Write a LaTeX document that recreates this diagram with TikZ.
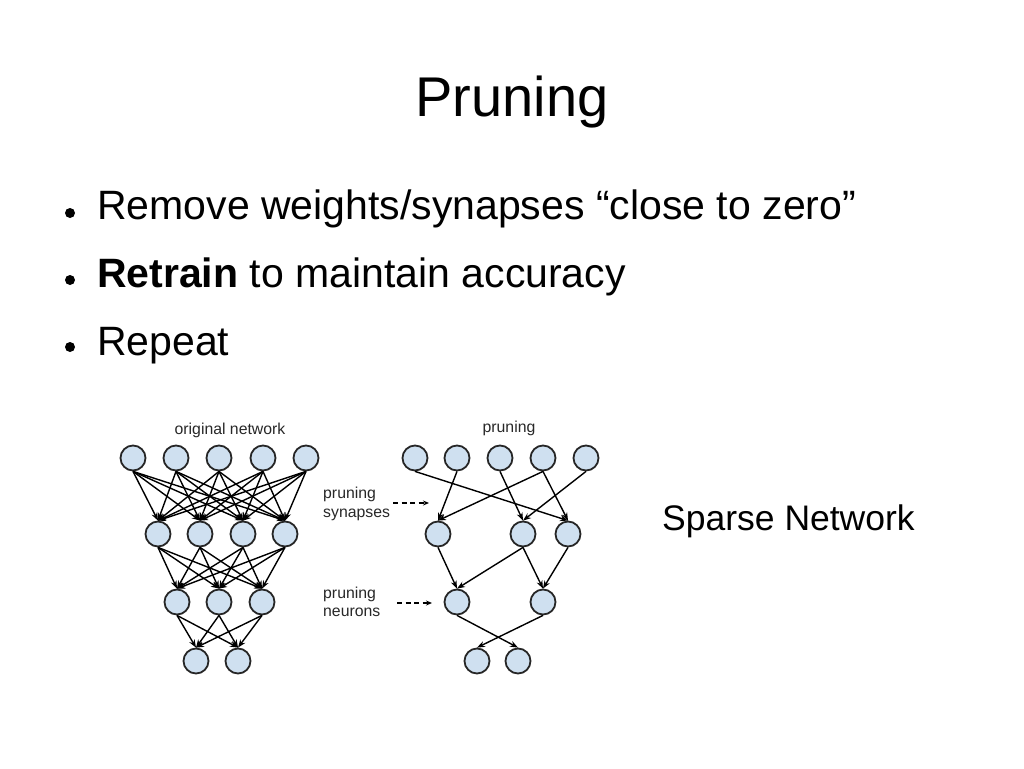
\documentclass[tikz,border=0pt]{standalone}
\usepackage{fontspec}
\setmainfont{Liberation Sans}
\usetikzlibrary{arrows.meta}
\definecolor{nodefill}{RGB}{207,224,240}
\definecolor{labelgray}{RGB}{40,40,40}
\begin{document}
\begin{tikzpicture}[x=1pt,y=-1pt,
  neuron/.style={circle,draw=black!85,line width=1.8pt,fill=nodefill,minimum size=25pt,inner sep=0pt},
  syn/.style={line width=1.4pt,-{Stealth[length=8pt,width=6pt]}},
  dasharrow/.style={line width=1.1pt,dash pattern=on 5pt off 3.5pt,-{Stealth[length=6pt,width=5pt]}},
  small/.style={font=\fontsize{15.8}{18.5}\selectfont,text=labelgray,inner sep=0pt},
  bullettext/.style={font=\fontsize{41}{45}\selectfont,anchor=base west,inner sep=0pt},
  bulletdot/.style={circle,fill=black,minimum size=10pt,inner sep=0pt}]
\useasboundingbox (0,0) rectangle (1024,768);
\fill[white] (0,0) rectangle (1024,768);

% title
\node[font=\fontsize{56}{60}\selectfont,anchor=base,inner sep=0pt] (title) at (512,116) {Pruning};

% bullets
\node[bulletdot] (d1) at (70,213) {};
\node[bulletdot] (d2) at (70,280) {};
\node[bulletdot] (d3) at (70,347) {};
\node[bullettext] (b1) at (97,219) {Remove weights/synapses “close to zero”};
\node[bullettext] (b2) at (97,287) {\textbf{Retrain} to maintain accuracy};
\node[bullettext] (b3) at (97,355) {Repeat};

\node[font=\fontsize{35.5}{40}\selectfont,anchor=base west,inner sep=0pt] (sparse) at (662,530) {Sparse Network};

% original network
\node[small] (ol) at (230,430) {original network};
\foreach \x [count=\i] in {133,176,219,263,306} \node[neuron] (a\i) at (\x,458) {};
\foreach \x [count=\i] in {158,200,243,285} \node[neuron] (b\i) at (\x,534) {};
\foreach \x [count=\i] in {177,219,262} \node[neuron] (c\i) at (\x,602) {};
\foreach \x [count=\i] in {196,238} \node[neuron] (e\i) at (\x,661) {};
\foreach \i in {1,...,5} \foreach \j in {1,...,4} \draw[syn] (a\i.south) -- (b\j.north);
\foreach \i in {1,...,4} \foreach \j in {1,...,3} \draw[syn] (b\i.south) -- (c\j.north);
\foreach \i in {1,...,3} \foreach \j in {1,2} \draw[syn] (c\i.south) -- (e\j.north);

% labels between
\node[small,anchor=west,align=left] (ps) at (323,504) {pruning\\synapses};
\node[small,anchor=west,align=left] (pn) at (323,602) {pruning\\neurons};
\coordinate (ps1) at (393,503);
\coordinate (ps2) at (429,503);
\coordinate (pn1) at (397,603);
\coordinate (pn2) at (432,603);
\draw[dasharrow] (ps1) -- (ps2);
\draw[dasharrow] (pn1) -- (pn2);

% pruned network
\node[small] (pl) at (509,428) {pruning};
\foreach \x [count=\i] in {415,457,500,543,586} \node[neuron] (p\i) at (\x,458) {};
\node[neuron] (q1) at (438,534) {};
\node[neuron] (q2) at (523,534) {};
\node[neuron] (q3) at (568,534) {};
\node[neuron] (r1) at (457,602) {};
\node[neuron] (r2) at (543,602) {};
\node[neuron] (s1) at (477,661) {};
\node[neuron] (s2) at (518,661) {};
\draw[syn] (p1.south) -- (q3.north);
\draw[syn] (p2.south) -- (q1.north);
\draw[syn] (p3.south) -- (q2.north);
\draw[syn] (p4.south) -- (q1.north);
\draw[syn] (p4.south) -- (q3.north);
\draw[syn] (p5.south) -- (q2.north);
\draw[syn] (q1.south) -- (r1.north);
\draw[syn] (q2.south) -- (r1.north);
\draw[syn] (q2.south) -- (r2.north);
\draw[syn] (q3.south) -- (r2.north);
\draw[syn] (r1.south) -- (s2.north);
\draw[syn] (r2.south) -- (s1.north);
\end{tikzpicture}
\end{document}
